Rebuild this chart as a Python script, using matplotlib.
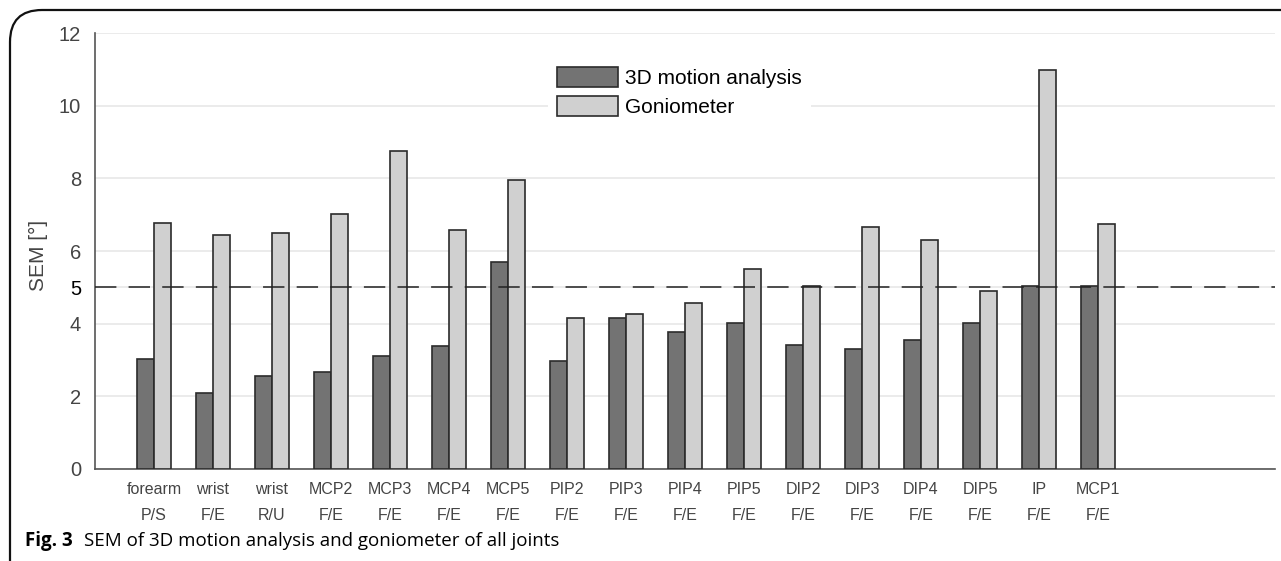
import matplotlib.pyplot as plt
import numpy as np
from matplotlib.patches import FancyBboxPatch

# joints and motions (two-line tick labels)
joints = ['forearm', 'wrist', 'wrist', 'MCP2', 'MCP3', 'MCP4', 'MCP5', 'PIP2', 'PIP3',
          'PIP4', 'PIP5', 'DIP2', 'DIP3', 'DIP4', 'DIP5', 'IP', 'MCP1']
motions = ['P/S', 'F/E', 'R/U', 'F/E', 'F/E', 'F/E', 'F/E', 'F/E', 'F/E',
           'F/E', 'F/E', 'F/E', 'F/E', 'F/E', 'F/E', 'F/E', 'F/E']
# SEM in degrees
sem_3d = [3.02, 2.09, 2.55, 2.66, 3.12, 3.38, 5.70, 2.98, 4.16,
          3.77, 4.01, 3.40, 3.29, 3.54, 4.02, 5.05, 5.03]
sem_gonio = [6.76, 6.43, 6.49, 7.02, 8.75, 6.59, 7.95, 4.16, 4.26,
             4.58, 5.51, 5.03, 6.67, 6.31, 4.90, 10.98, 6.75]
y_ticks = [0, 2, 4, 5, 6, 8, 10, 12]
threshold = 5

plt.rcParams['font.family'] = ['Liberation Sans', 'DejaVu Sans']

fig = plt.figure(figsize=(12.81, 5.61), dpi=100)
ax = fig.add_axes([95/1281, 1-469/561, 1180/1281, 436/561])

x = np.arange(1, len(joints)+1)
w = 0.29
ax.bar(x - w/2, sem_3d, w, color='#737373', edgecolor='#2b2b2b', lw=1.2, label='3D motion analysis', zorder=3)
ax.bar(x + w/2, sem_gonio, w, color='#d0d0d0', edgecolor='#2b2b2b', lw=1.2, label='Goniometer', zorder=3)
ax.axhline(threshold, color='#222222', lw=1.1, ls=(0, (14, 8)), zorder=4)

ax.set_xlim(0, 20); ax.set_ylim(0, 12)
ax.set_yticks(y_ticks)
ax.set_yticklabels([str(t) for t in y_ticks], fontsize=14.5, color='#444444')
for t, lab in zip(y_ticks, ax.get_yticklabels()):
    if t == threshold:
        lab.set_color('#000000')
ax.set_xticks(x)
ax.set_xticklabels(['%s\n%s' % (j, m) for j, m in zip(joints, motions)],
                   fontsize=11.5, color='#444444', linespacing=2.0)
ax.tick_params(axis='both', length=0)
ax.tick_params(axis='x', pad=9)
ax.tick_params(axis='y', pad=10)
ax.yaxis.grid(True, color='#e8e8e8', lw=1.2)
ax.set_axisbelow(True)
for s in ['top', 'right']:
    ax.spines[s].set_visible(False)
for s in ['left', 'bottom']:
    ax.spines[s].set_color('#555555'); ax.spines[s].set_linewidth(1.2)
ax.set_ylabel('SEM [°]', fontsize=15, color='#444444')
ax.yaxis.set_label_coords(-47/1180, (469-255)/436)

leg = ax.legend(loc='upper left', bbox_to_anchor=(548/1281, 1-58/561), bbox_transform=fig.transFigure,
                fontsize=15, frameon=True, fancybox=False, handlelength=2.93, handleheight=1.1,
                handletextpad=0.33, labelspacing=0.35, borderpad=0.45, borderaxespad=0)
leg.get_frame().set_edgecolor('none'); leg.get_frame().set_facecolor('white'); leg.get_frame().set_alpha(1)
leg.set_zorder(5)

# figure frame (top-left rounded corner) and caption
frame = FancyBboxPatch((10/1281, -0.2), 1.2, 1.2 - 10/561, boxstyle='round,pad=0,rounding_size=0.025',
                       transform=fig.transFigure, fill=False, ec='#111111', lw=1.6, mutation_aspect=1281/561)
fig.patches.append(frame)
fig.text(25/1281, 1-546/561, 'Fig. 3', fontsize=13.5, fontweight='bold', family='Open Sans', va='baseline')
fig.text(84/1281, 1-546/561, 'SEM of 3D motion analysis and goniometer of all joints', fontsize=13.5,
         family='Open Sans', va='baseline')

fig.savefig('out.png', dpi=100)
